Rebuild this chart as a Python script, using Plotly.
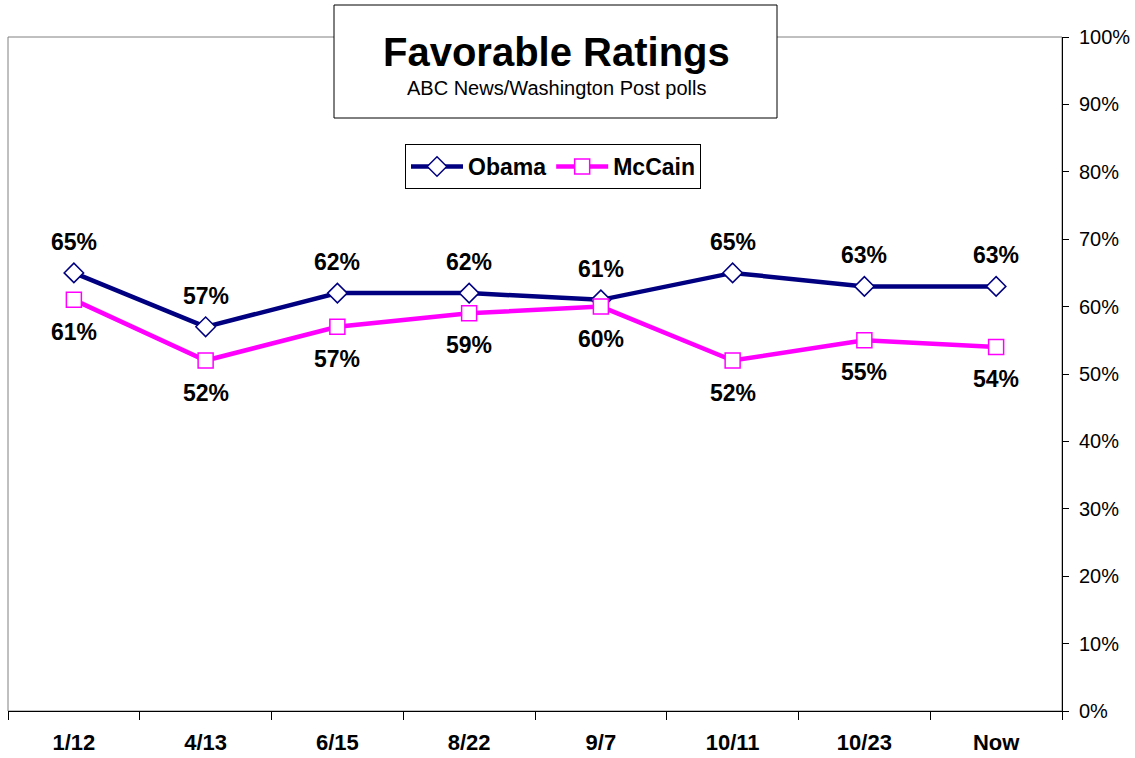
import plotly.graph_objects as go

categories = ["1/12", "4/13", "6/15", "8/22", "9/7", "10/11", "10/23", "Now"]
obama = [65, 57, 62, 62, 61, 65, 63, 63]
mccain = [61, 52, 57, 59, 60, 52, 55, 54]
y_ticks = [0, 10, 20, 30, 40, 50, 60, 70, 80, 90, 100]

FONT = "Arial, Liberation Sans, sans-serif"
NAVY = "#000080"
MAG = "#FF00FF"

W, H = 1135, 758
# target plot area in screen pixels
PL, PR, PT, PB = 8, 1062, 37, 711
L, T = PL, PT
R, B = W - PR, H - PB
PW, PH = PR - PL, PB - PT

def px(x):
    return (x - PL) / PW

def py(y):
    return (PB - y) / PH

fig = go.Figure()
fig.add_trace(go.Scatter(
    x=categories, y=obama, name="Obama", mode="lines+markers",
    line=dict(color=NAVY, width=4.5),
    marker=dict(symbol="diamond", size=15, color="white", line=dict(color=NAVY, width=1.5)),
))
fig.add_trace(go.Scatter(
    x=categories, y=mccain, name="McCain", mode="lines+markers",
    line=dict(color=MAG, width=4.5),
    marker=dict(symbol="square", size=15, color="white", line=dict(color=MAG, width=1.5)),
))

annotations = []
for c, v in zip(categories, obama):
    annotations.append(dict(x=c, y=v, xref="x", yref="y", text=f"<b>{v}%</b>",
                            showarrow=False, yshift=31, font=dict(family=FONT, size=23, color="black")))
for c, v in zip(categories, mccain):
    annotations.append(dict(x=c, y=v, xref="x", yref="y", text=f"<b>{v}%</b>",
                            showarrow=False, yshift=-32, font=dict(family=FONT, size=23, color="black")))

annotations.append(dict(x=px(556), y=py(52), xref="paper", yref="paper", text="<b>Favorable Ratings</b>",
                        xanchor="center", yanchor="middle",
                        showarrow=False, font=dict(family=FONT, size=40, color="black")))
annotations.append(dict(x=px(556), y=py(88), xref="paper", yref="paper", text="ABC News/Washington Post polls",
                        xanchor="center", yanchor="middle",
                        showarrow=False, font=dict(family=FONT, size=20, color="black")))

shapes = [
    dict(type="rect", xref="paper", yref="paper", x0=0, x1=1, y0=0, y1=1,
         line=dict(color="#808080", width=1), layer="below"),
    dict(type="rect", xref="paper", yref="paper", x0=px(334), x1=px(777), y0=py(118), y1=py(5),
         line=dict(color="black", width=1), fillcolor="white", layer="above"),
]

fig.update_layout(
    width=W, height=H,
    margin=dict(l=L, r=R, t=T, b=B),
    paper_bgcolor="white", plot_bgcolor="white",
    font=dict(family=FONT, color="black"),
    showlegend=True,
    legend=dict(orientation="h", x=px(405), y=py(144), xanchor="left", yanchor="top",
                bordercolor="black", borderwidth=1, bgcolor="white",
                font=dict(family=FONT, size=23, color="black", weight="bold"),
                itemwidth=52),
    annotations=annotations,
    shapes=shapes,
    xaxis=dict(type="category", range=[-0.5, len(categories) - 0.5],
               showline=True, linecolor="black", linewidth=1,
               ticks="outside", ticklen=8, tickcolor="black", tickson="boundaries",
               showgrid=False, zeroline=False, automargin=False,
               tickfont=dict(family=FONT, size=22, color="black", weight="bold"),
               ticklabelstandoff=12),
    yaxis=dict(range=[0, 100], side="right", tickvals=y_ticks,
               ticktext=[f"{v}%" for v in y_ticks],
               showline=True, linecolor="black", linewidth=1,
               ticks="outside", ticklen=6, tickcolor="black",
               showgrid=False, zeroline=False, automargin=False,
               tickfont=dict(family=FONT, size=20, color="black"),
               ticklabelstandoff=6),
)

fig.write_html("out.html", config={"displayModeBar": False},
               post_script="document.body.style.margin='0';document.body.style.overflow='hidden';")
